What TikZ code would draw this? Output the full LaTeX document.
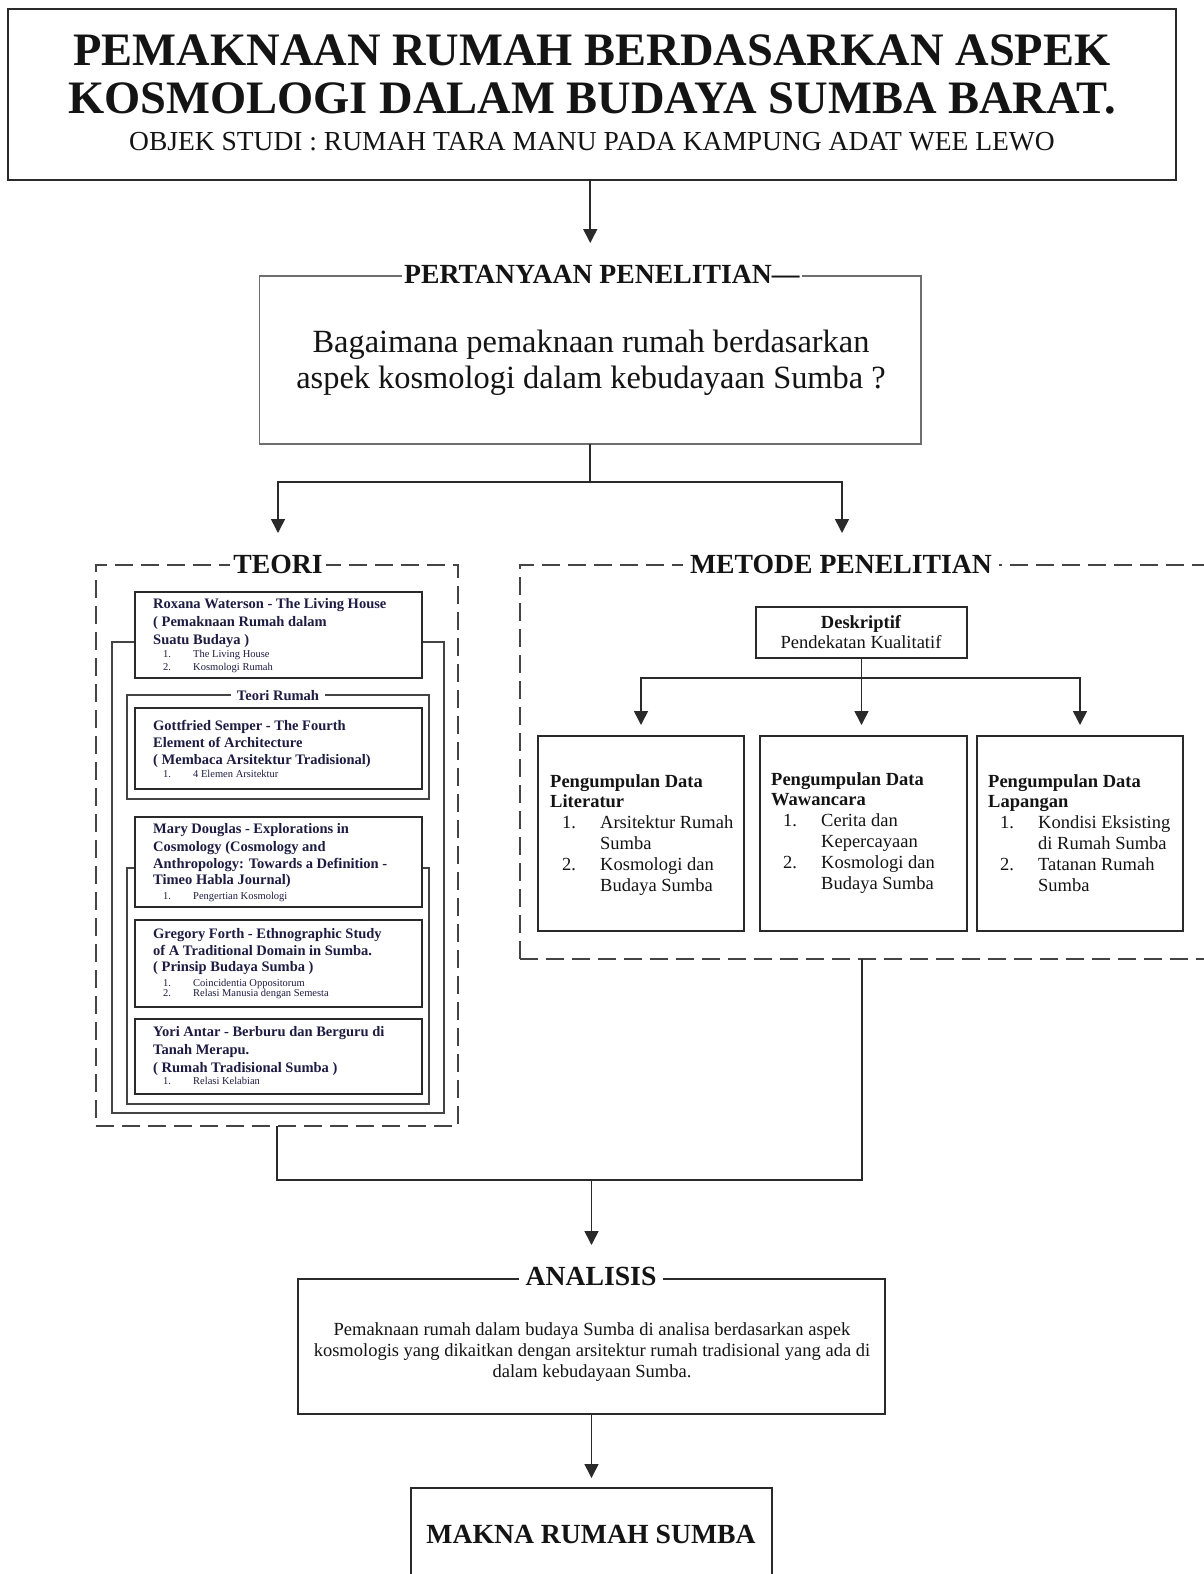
\documentclass[tikz,border=0pt]{standalone}
\usepackage{fontspec}
\setmainfont{Liberation Serif}
\usetikzlibrary{arrows.meta}
\definecolor{ln}{HTML}{2A2A2A}
\definecolor{dl}{HTML}{444444}
\definecolor{gl}{HTML}{6E6E6E}
\definecolor{txt}{HTML}{141414}
\definecolor{navy}{HTML}{1E1B42}
\newcommand{\myfs}[2]{\fontsize{#1}{#2}\selectfont}
\tikzset{
  box/.style={draw=ln, line width=2pt, fill=white, inner sep=0pt, outer sep=0pt, anchor=north west},
  frame/.style={draw=dl, line width=1.6pt, inner sep=0pt, outer sep=0pt, anchor=north west},
  dbox/.style={draw=dl, line width=2pt, dash pattern=on 18pt off 8pt, inner sep=0pt, outer sep=0pt, anchor=north west},
  conn/.style={draw=ln, line width=1.6pt},
  arr/.style={conn, -{Triangle[width=14pt,length=14pt]}},
  lbl/.style={fill=white, inner xsep=4pt, inner ysep=1pt, text=txt, font=\myfs{27.7}{32}\bfseries},
  tt/.style={inner sep=0pt, anchor=base west, text=navy, font=\myfs{14.5}{17}\bfseries},
  ti/.style={inner sep=0pt, anchor=base west, text=navy, font=\myfs{10.5}{12}},
  mh/.style={inner sep=0pt, anchor=base west, text=txt, font=\myfs{18.5}{21}\bfseries},
  mt/.style={inner sep=0pt, anchor=base west, text=txt, font=\myfs{18.5}{21}},
  plain/.style={inner sep=0pt, text=txt}
}
\newcommand{\titem}[4]{\node[ti] (#1n) at (163,#2) {#3}; \node[ti] (#1t) at (193,#2) {#4};}
\newcommand{\tline}[3]{\node[tt] (#1) at (153,#2) {#3};}
\begin{document}
\begin{tikzpicture}[x=1pt,y=-1pt]
\clip (0,0) rectangle (1204,1574);
\fill[white] (0,0) rectangle (1204,1574);

% ---------- title ----------
\node[box, minimum width=1168pt, minimum height=171pt] (titlebox) at (8,9) {};
\node[plain, anchor=base, font=\myfs{46.5}{53}\bfseries] (t1) at (592,65) {PEMAKNAAN RUMAH BERDASARKAN ASPEK};
\node[plain, anchor=base, font=\myfs{46.5}{53}\bfseries] (t2) at (592,113) {KOSMOLOGI DALAM BUDAYA SUMBA BARAT.};
\node[plain, anchor=base, font=\myfs{27.5}{32}] (t3) at (592,150) {OBJEK STUDI : RUMAH TARA MANU PADA KAMPUNG ADAT WEE LEWO};

% ---------- pertanyaan ----------
\node[draw=gl, line width=1.8pt, inner sep=0pt, outer sep=0pt, anchor=north west, minimum width=661.5pt, minimum height=168pt] (pq) at (259.5,276) {};
\node[lbl, anchor=base west, inner xsep=2pt] (pqlabel) at (402,283) {PERTANYAAN PENELITIAN---};
\node[plain, anchor=base, font=\myfs{32.4}{36}] (q1) at (591,352) {Bagaimana pemaknaan rumah berdasarkan};
\node[plain, anchor=base, font=\myfs{32.4}{36}] (q2) at (591,388) {aspek kosmologi dalam kebudayaan Sumba ?};

\draw[arr] (titlebox.south -| pq.north) -- ([yshift=33pt]pq.north);

\coordinate (split) at (590,482);
\coordinate (ta) at (278,533);
\coordinate (ma) at (842,533);
\draw[conn] (pq.south) -- (pq.south |- split);
\draw[arr] (pq.south |- split) -| (ta);
\draw[arr] (pq.south |- split) -| (ma);

% ---------- TEORI ----------
\node[dbox, minimum width=362pt, minimum height=561pt] (teori) at (96,565) {};
\node[lbl, anchor=base, inner xsep=3pt] (teorilabel) at (278,573) {TEORI};

\node[frame, minimum width=332pt, minimum height=471pt] (fr1) at (112,642) {};
\node[frame, minimum width=302pt, minimum height=104pt] (frr) at (127,695) {};
\node[frame, minimum width=302pt, minimum height=236pt] (fr2) at (127,868) {};
\node[lbl, anchor=base, inner xsep=6pt, inner ysep=0pt, text=navy, font=\myfs{14.5}{17}\bfseries] (frrlabel) at (278,700) {Teori Rumah};

\node[box, minimum width=287pt, minimum height=86pt] (rw) at (135,592) {};
\node[box, minimum width=287pt, minimum height=81pt] (gs) at (135,708) {};
\node[box, minimum width=287pt, minimum height=90pt] (md) at (135,817) {};
\node[box, minimum width=287pt, minimum height=87pt] (gf) at (135,920) {};
\node[box, minimum width=287pt, minimum height=75pt] (ya) at (135,1019) {};

\tline{rwh1}{608}{Roxana Waterson - The Living House}
\tline{rwh2}{626}{( Pemaknaan Rumah dalam}
\tline{rwh3}{644}{Suatu Budaya )}
\titem{rwa}{657}{1.}{The Living House}
\titem{rwb}{670}{2.}{Kosmologi Rumah}

\tline{gsh1}{730}{Gottfried Semper - The Fourth}
\tline{gsh2}{747}{Element of Architecture}
\tline{gsh3}{764}{( Membaca Arsitektur Tradisional)}
\titem{gsa}{777}{1.}{4 Elemen Arsitektur}

\tline{mdh1}{833}{Mary Douglas - Explorations in}
\tline{mdh2}{851}{Cosmology (Cosmology and}
\tline{mdh3}{868}{Anthropology: Towards a Definition -}
\tline{mdh4}{884}{Timeo Habla Journal)}
\titem{mda}{899}{1.}{Pengertian Kosmologi}

\tline{gfh1}{938}{Gregory Forth - Ethnographic Study}
\tline{gfh2}{955}{of A Traditional Domain in Sumba.}
\tline{gfh3}{971}{( Prinsip Budaya Sumba )}
\titem{gfa}{986}{1.}{Coincidentia Oppositorum}
\titem{gfb}{996}{2.}{Relasi Manusia dengan Semesta}

\tline{yah1}{1036}{Yori Antar - Berburu dan Berguru di}
\tline{yah2}{1054}{Tanah Merapu.}
\tline{yah3}{1072}{( Rumah Tradisional Sumba )}
\titem{yaa}{1084}{1.}{Relasi Kelabian}

% ---------- METODE ----------
\node[dbox, minimum width=720pt, minimum height=394pt] (metode) at (520,565) {};
\node[lbl, anchor=base, inner xsep=7pt] (metodelabel) at (841,573) {METODE PENELITIAN};

\node[box, minimum width=211pt, minimum height=51pt] (desk) at (756,607) {};
\node[plain, anchor=base, font=\myfs{18.5}{21}\bfseries] (desk1) at (861,628) {Deskriptif};
\node[plain, anchor=base, font=\myfs{18.5}{21}] (desk2) at (861,648) {Pendekatan Kualitatif};

\node[box, minimum width=206pt, minimum height=195pt] (lit) at (538,736) {};
\node[box, minimum width=207pt, minimum height=195pt] (waw) at (760,736) {};
\node[box, minimum width=206pt, minimum height=195pt] (lap) at (977,736) {};

\coordinate (dsplit) at (861,678);
\coordinate (la) at (641,725);
\coordinate (pa) at (1080,725);
\draw[conn] (desk.south) -- (desk.south |- dsplit);
\draw[arr] (desk.south |- dsplit) -| (la);
\draw[arr] (desk.south |- dsplit) -- (desk.south |- la);
\draw[arr] (desk.south |- dsplit) -| (pa);

% literatur
\node[mh] (l1) at (550,787) {Pengumpulan Data};
\node[mh] (l2) at (550,807) {Literatur};
\node[mt] (l3n) at (562,828) {1.};
\node[mt] (l3) at (600,828) {Arsitektur Rumah};
\node[mt] (l4) at (600,849) {Sumba};
\node[mt] (l5n) at (562,870) {2.};
\node[mt] (l5) at (600,870) {Kosmologi dan};
\node[mt] (l6) at (600,891) {Budaya Sumba};
% wawancara
\node[mh] (w1) at (771,785) {Pengumpulan Data};
\node[mh] (w2) at (771,805) {Wawancara};
\node[mt] (w3n) at (783,826) {1.};
\node[mt] (w3) at (821,826) {Cerita dan};
\node[mt] (w4) at (821,847) {Kepercayaan};
\node[mt] (w5n) at (783,868) {2.};
\node[mt] (w5) at (821,868) {Kosmologi dan};
\node[mt] (w6) at (821,889) {Budaya Sumba};
% lapangan
\node[mh] (p1) at (988,787) {Pengumpulan Data};
\node[mh] (p2) at (988,807) {Lapangan};
\node[mt] (p3n) at (1000,828) {1.};
\node[mt] (p3) at (1038,828) {Kondisi Eksisting};
\node[mt] (p4) at (1038,849) {di Rumah Sumba};
\node[mt] (p5n) at (1000,870) {2.};
\node[mt] (p5) at (1038,870) {Tatanan Rumah};
\node[mt] (p6) at (1038,891) {Sumba};

% ---------- join ----------
\node[box, minimum width=587pt, minimum height=135pt] (an) at (298,1279) {};
\node[lbl, anchor=base, inner xsep=7pt] (anlabel) at (591,1285) {ANALISIS};
\node[plain, anchor=base, font=\myfs{18.5}{21}] (an1) at (592,1335) {Pemaknaan rumah dalam budaya Sumba di analisa berdasarkan aspek};
\node[plain, anchor=base, font=\myfs{18.5}{21}] (an2) at (592,1356) {kosmologis yang dikaitkan dengan arsitektur rumah tradisional yang ada di};
\node[plain, anchor=base, font=\myfs{18.5}{21}] (an3) at (592,1377) {dalam kebudayaan Sumba.};

\coordinate (j) at (591.5,1180);
\coordinate (mj) at (862,1180);
\draw[conn] (teori.south) |- (mj) -- (mj |- metode.south);
\draw[arr] (an.north |- j) -- ([yshift=34pt]an.north);

\node[box, minimum width=361pt, minimum height=120pt] (mk) at (411,1488) {};
\node[plain, anchor=base, font=\myfs{27.7}{32}\bfseries] (mktext) at (591,1543) {MAKNA RUMAH SUMBA};
\draw[arr] (an.south) -- ([yshift=10pt]an.south |- mk.north);
\end{tikzpicture}
\end{document}
